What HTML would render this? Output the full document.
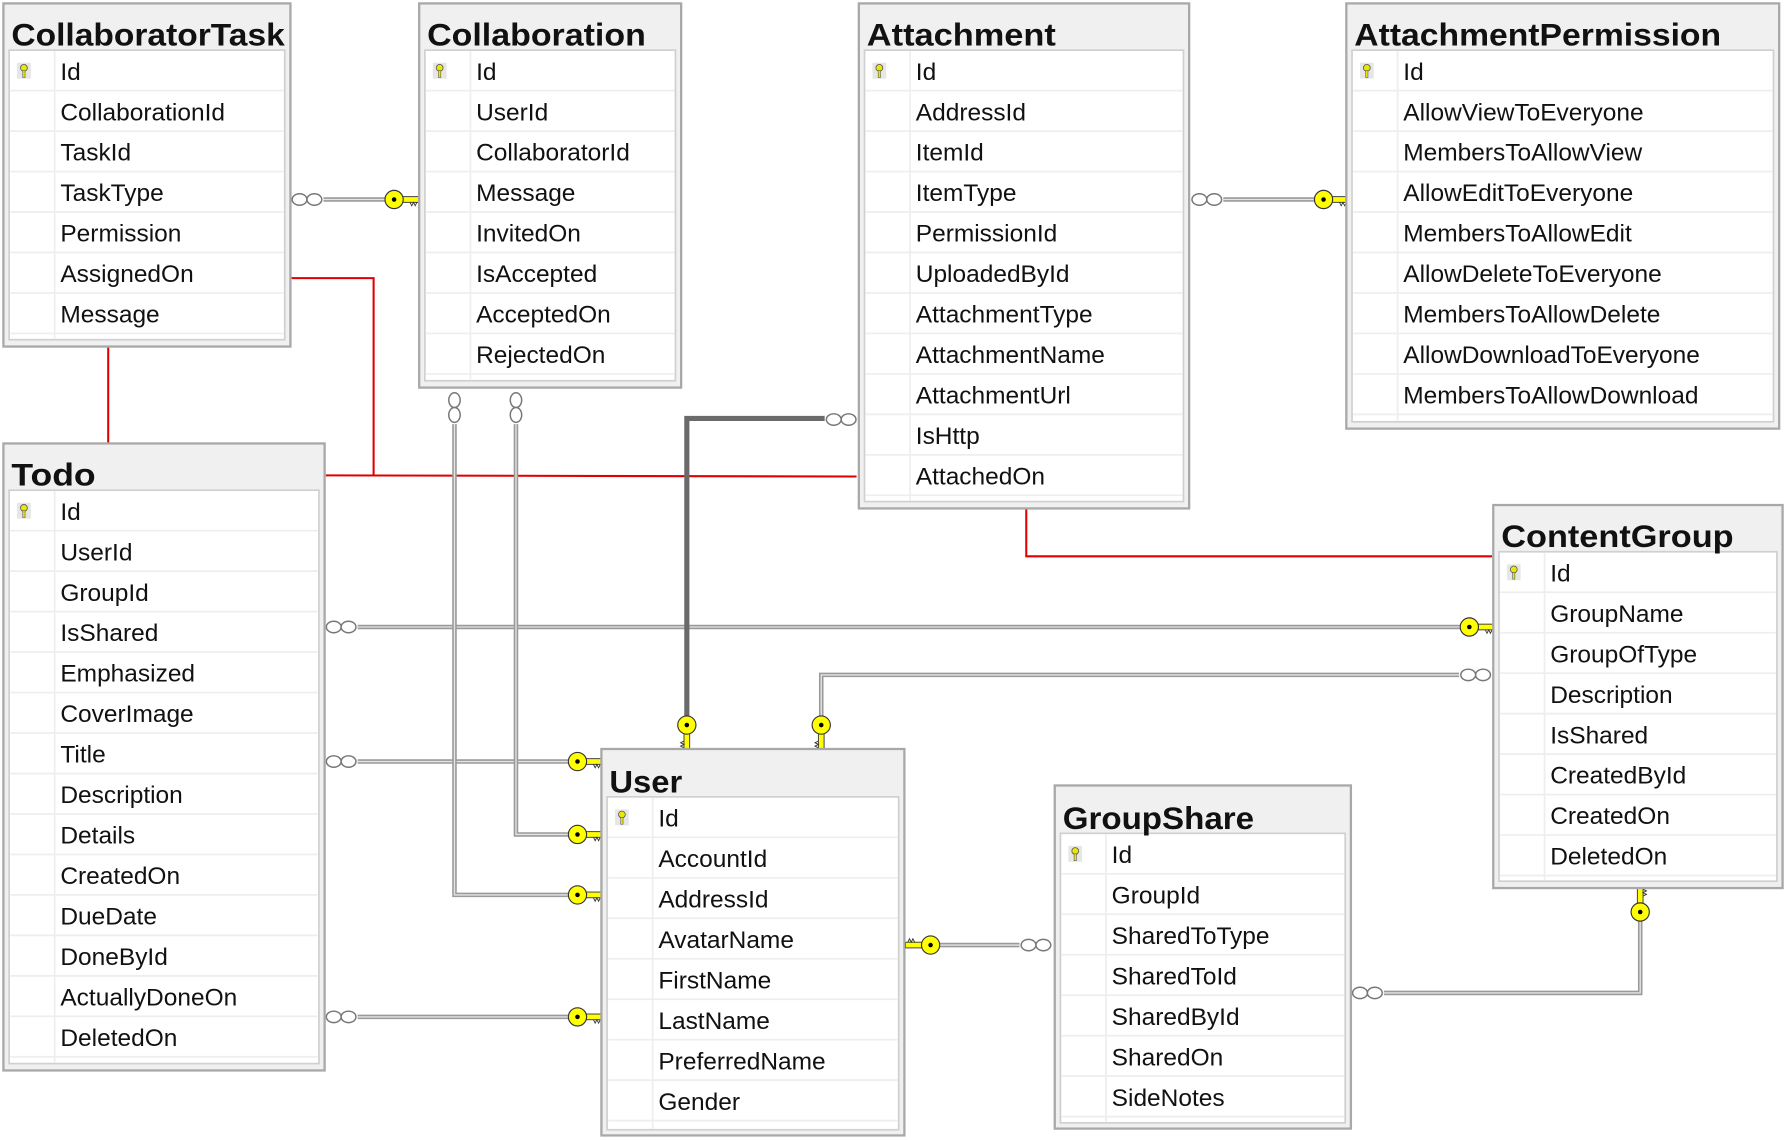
<!DOCTYPE html>
<html><head><meta charset="utf-8"><style>
html,body{margin:0;padding:0;background:#fff;}
svg{display:block;}
text{font-family:"Liberation Sans",sans-serif;fill:#111;}
.t{font-size:28px;font-weight:bold;}
.f{font-size:21.5px;}
.ob{fill:#f0f0f0;stroke:#a8a8a8;stroke-width:2;}
.ib{fill:#fff;stroke:#d0d0d0;stroke-width:1.5;}
.sep{stroke:#eeeeee;stroke-width:1.5;}
.ln1{fill:none;stroke:#9a9a9a;stroke-width:4;}
.ln2{fill:none;stroke:#e4e4e4;stroke-width:1.2;}
.dk{fill:none;stroke:#6a6a6a;stroke-width:4.5;}
.red{fill:none;stroke:#e00000;stroke-width:1.8;}
.inf{fill:#fff;stroke:#777;stroke-width:1.3;}
</style></head><body>
<svg width="1786" height="1140" viewBox="0 0 1568 1000" preserveAspectRatio="none" xmlns="http://www.w3.org/2000/svg">
<defs>
<g id="key">
<rect x="6" y="-2.5" width="16" height="5" fill="#ffff00" stroke="#333" stroke-width="0.8"/>
<path d="M14 2.5 l1.5 3 l1.5 -3 l1.5 3 l1.5 -3" fill="none" stroke="#333" stroke-width="0.8"/>
<circle cx="0" cy="0" r="8" fill="#ffff00" stroke="#333" stroke-width="1"/>
<circle cx="0" cy="0" r="2" fill="#000"/>
</g>
<g id="sk">
<rect x="-6" y="-7" width="12" height="14" fill="#e6e6e6"/>
<circle cx="0" cy="-2.5" r="3" fill="#e8e800" stroke="#555" stroke-width="0.7"/>
<rect x="-1" y="0" width="2" height="6" fill="#e8e800" stroke="#555" stroke-width="0.5"/>
</g>
</defs>

<!-- red lines -->
<path class="red" d="M95 304 V389"/>
<path class="red" d="M256 244 H328 V417"/>
<path class="red" d="M286 417 L752 418"/>
<path class="red" d="M901 446 V488 H1310"/>

<!-- connectors -->
<g>
<path class="ln1" d="M284 175 H340"/><path class="ln2" d="M284 175 H340"/>
<path class="ln1" d="M1074 175 H1156"/><path class="ln2" d="M1074 175 H1156"/>
<path class="ln1" d="M314 550 H1284"/><path class="ln2" d="M314 550 H1284"/>
<path class="ln1" d="M314 668 H500"/><path class="ln2" d="M314 668 H500"/>
<path class="ln1" d="M314 892 H500"/><path class="ln2" d="M314 892 H500"/>
<path class="ln1" d="M399 372 V785 H500"/><path class="ln2" d="M399 372 V785 H500"/>
<path class="ln1" d="M453 372 V732 H500"/><path class="ln2" d="M453 372 V732 H500"/>
<path class="dk" d="M724 367 H603 V630"/>
<path class="ln1" d="M1281 592 H721 V630"/><path class="ln2" d="M1281 592 H721 V630"/>
<path class="ln1" d="M824 829 H895"/><path class="ln2" d="M824 829 H895"/>
<path class="ln1" d="M1215 871 H1440 V808"/><path class="ln2" d="M1215 871 H1440 V808"/>
</g>
<!-- infinity -->
<ellipse class="inf" cx="263" cy="175" rx="6.5" ry="5"/><ellipse class="inf" cx="276" cy="175" rx="6.5" ry="5"/>
<ellipse class="inf" cx="1053" cy="175" rx="6.5" ry="5"/><ellipse class="inf" cx="1066" cy="175" rx="6.5" ry="5"/>
<ellipse class="inf" cx="293" cy="550" rx="6.5" ry="5"/><ellipse class="inf" cx="306" cy="550" rx="6.5" ry="5"/>
<ellipse class="inf" cx="293" cy="668" rx="6.5" ry="5"/><ellipse class="inf" cx="306" cy="668" rx="6.5" ry="5"/>
<ellipse class="inf" cx="293" cy="892" rx="6.5" ry="5"/><ellipse class="inf" cx="306" cy="892" rx="6.5" ry="5"/>
<ellipse class="inf" cx="399" cy="351" rx="5" ry="6.5"/><ellipse class="inf" cx="399" cy="364" rx="5" ry="6.5"/>
<ellipse class="inf" cx="453" cy="351" rx="5" ry="6.5"/><ellipse class="inf" cx="453" cy="364" rx="5" ry="6.5"/>
<ellipse class="inf" cx="732" cy="368" rx="6.5" ry="5"/><ellipse class="inf" cx="745" cy="368" rx="6.5" ry="5"/>
<ellipse class="inf" cx="1289" cy="592" rx="6.5" ry="5"/><ellipse class="inf" cx="1302" cy="592" rx="6.5" ry="5"/>
<ellipse class="inf" cx="903" cy="829" rx="6.5" ry="5"/><ellipse class="inf" cx="916" cy="829" rx="6.5" ry="5"/>
<ellipse class="inf" cx="1194" cy="871" rx="6.5" ry="5"/><ellipse class="inf" cx="1207" cy="871" rx="6.5" ry="5"/>
<!-- keys -->
<use href="#key" transform="translate(346,175)"/>
<use href="#key" transform="translate(1162,175)"/>
<use href="#key" transform="translate(1290,550)"/>
<use href="#key" transform="translate(507,668)"/>
<use href="#key" transform="translate(507,732)"/>
<use href="#key" transform="translate(507,785)"/>
<use href="#key" transform="translate(507,892)"/>
<use href="#key" transform="translate(603,636) rotate(90)"/>
<use href="#key" transform="translate(721,636) rotate(90)"/>
<use href="#key" transform="translate(817,829) rotate(180)"/>
<use href="#key" transform="translate(1440,800) rotate(-90)"/>

<!-- CollaboratorTask -->
<g transform="translate(3,3)">
<rect class="ob" x="0" y="0" width="252" height="301"/>
<rect class="ib" x="5" y="41" width="242" height="254"/>
<text class="t" x="7" y="37" textLength="240" lengthAdjust="spacingAndGlyphs">CollaboratorTask</text>
<path class="sep" d="M6 76.5H246M6 112H246M6 147.5H246M6 183H246M6 218.5H246M6 254H246M6 289.5H246M45 42V294"/>
<use href="#sk" transform="translate(18,59)"/>
<text class="f" x="50" y="67">Id</text><text class="f" x="50" y="102.5">CollaborationId</text><text class="f" x="50" y="138">TaskId</text><text class="f" x="50" y="173.5">TaskType</text><text class="f" x="50" y="209">Permission</text><text class="f" x="50" y="244.5">AssignedOn</text><text class="f" x="50" y="280">Message</text>
</g>

<!-- Collaboration -->
<g transform="translate(368,3)">
<rect class="ob" x="0" y="0" width="230" height="337"/>
<rect class="ib" x="5" y="41" width="220" height="290"/>
<text class="t" x="7" y="37" textLength="192" lengthAdjust="spacingAndGlyphs">Collaboration</text>
<path class="sep" d="M6 76.5H224M6 112H224M6 147.5H224M6 183H224M6 218.5H224M6 254H224M6 289.5H224M6 325H224M45 42V330"/>
<use href="#sk" transform="translate(18,59)"/>
<text class="f" x="50" y="67">Id</text><text class="f" x="50" y="102.5">UserId</text><text class="f" x="50" y="138">CollaboratorId</text><text class="f" x="50" y="173.5">Message</text><text class="f" x="50" y="209">InvitedOn</text><text class="f" x="50" y="244.5">IsAccepted</text><text class="f" x="50" y="280">AcceptedOn</text><text class="f" x="50" y="315.5">RejectedOn</text>
</g>

<!-- Attachment -->
<g transform="translate(754,3)">
<rect class="ob" x="0" y="0" width="290" height="443"/>
<rect class="ib" x="5" y="41" width="280" height="396"/>
<text class="t" x="7" y="37" textLength="166" lengthAdjust="spacingAndGlyphs">Attachment</text>
<path class="sep" d="M6 76.5H284M6 112H284M6 147.5H284M6 183H284M6 218.5H284M6 254H284M6 289.5H284M6 325H284M6 360.5H284M6 396H284M6 431.5H284M45 42V436"/>
<use href="#sk" transform="translate(18,59)"/>
<text class="f" x="50" y="67">Id</text><text class="f" x="50" y="102.5">AddressId</text><text class="f" x="50" y="138">ItemId</text><text class="f" x="50" y="173.5">ItemType</text><text class="f" x="50" y="209">PermissionId</text><text class="f" x="50" y="244.5">UploadedById</text><text class="f" x="50" y="280">AttachmentType</text><text class="f" x="50" y="315.5">AttachmentName</text><text class="f" x="50" y="351">AttachmentUrl</text><text class="f" x="50" y="386.5">IsHttp</text><text class="f" x="50" y="422">AttachedOn</text>
</g>

<!-- AttachmentPermission -->
<g transform="translate(1182,3)">
<rect class="ob" x="0" y="0" width="380" height="373"/>
<rect class="ib" x="5" y="41" width="370" height="326"/>
<text class="t" x="7" y="37" textLength="322" lengthAdjust="spacingAndGlyphs">AttachmentPermission</text>
<path class="sep" d="M6 76.5H374M6 112H374M6 147.5H374M6 183H374M6 218.5H374M6 254H374M6 289.5H374M6 325H374M6 360.5H374M45 42V366"/>
<use href="#sk" transform="translate(18,59)"/>
<text class="f" x="50" y="67">Id</text><text class="f" x="50" y="102.5">AllowViewToEveryone</text><text class="f" x="50" y="138">MembersToAllowView</text><text class="f" x="50" y="173.5">AllowEditToEveryone</text><text class="f" x="50" y="209">MembersToAllowEdit</text><text class="f" x="50" y="244.5">AllowDeleteToEveryone</text><text class="f" x="50" y="280">MembersToAllowDelete</text><text class="f" x="50" y="315.5">AllowDownloadToEveryone</text><text class="f" x="50" y="351">MembersToAllowDownload</text>
</g>

<!-- Todo -->
<g transform="translate(3,389)">
<rect class="ob" x="0" y="0" width="282" height="550"/>
<rect class="ib" x="5" y="41" width="272" height="503"/>
<text class="t" x="7" y="37" textLength="74" lengthAdjust="spacingAndGlyphs">Todo</text>
<path class="sep" d="M6 76.5H276M6 112H276M6 147.5H276M6 183H276M6 218.5H276M6 254H276M6 289.5H276M6 325H276M6 360.5H276M6 396H276M6 431.5H276M6 467H276M6 502.5H276M6 538H276M45 42V543"/>
<use href="#sk" transform="translate(18,59)"/>
<text class="f" x="50" y="67">Id</text><text class="f" x="50" y="102.5">UserId</text><text class="f" x="50" y="138">GroupId</text><text class="f" x="50" y="173.5">IsShared</text><text class="f" x="50" y="209">Emphasized</text><text class="f" x="50" y="244.5">CoverImage</text><text class="f" x="50" y="280">Title</text><text class="f" x="50" y="315.5">Description</text><text class="f" x="50" y="351">Details</text><text class="f" x="50" y="386.5">CreatedOn</text><text class="f" x="50" y="422">DueDate</text><text class="f" x="50" y="457.5">DoneById</text><text class="f" x="50" y="493">ActuallyDoneOn</text><text class="f" x="50" y="528.5">DeletedOn</text>
</g>

<!-- User -->
<g transform="translate(528,657)">
<rect class="ob" x="0" y="0" width="266" height="339"/>
<rect class="ib" x="5" y="42" width="256" height="292"/>
<text class="t" x="7" y="38" textLength="64" lengthAdjust="spacingAndGlyphs">User</text>
<path class="sep" d="M6 77.5H260M6 113H260M6 148.5H260M6 184H260M6 219.5H260M6 255H260M6 290.5H260M6 326H260M45 43V333"/>
<use href="#sk" transform="translate(18,60)"/>
<text class="f" x="50" y="68">Id</text><text class="f" x="50" y="103.5">AccountId</text><text class="f" x="50" y="139">AddressId</text><text class="f" x="50" y="174.5">AvatarName</text><text class="f" x="50" y="210">FirstName</text><text class="f" x="50" y="245.5">LastName</text><text class="f" x="50" y="281">PreferredName</text><text class="f" x="50" y="316.5">Gender</text>
</g>

<!-- GroupShare -->
<g transform="translate(926,689)">
<rect class="ob" x="0" y="0" width="260" height="301"/>
<rect class="ib" x="5" y="42" width="250" height="254"/>
<text class="t" x="7" y="38" textLength="168" lengthAdjust="spacingAndGlyphs">GroupShare</text>
<path class="sep" d="M6 77.5H254M6 113H254M6 148.5H254M6 184H254M6 219.5H254M6 255H254M6 290.5H254M45 43V295"/>
<use href="#sk" transform="translate(18,60)"/>
<text class="f" x="50" y="68">Id</text><text class="f" x="50" y="103.5">GroupId</text><text class="f" x="50" y="139">SharedToType</text><text class="f" x="50" y="174.5">SharedToId</text><text class="f" x="50" y="210">SharedById</text><text class="f" x="50" y="245.5">SharedOn</text><text class="f" x="50" y="281">SideNotes</text>
</g>

<!-- ContentGroup -->
<g transform="translate(1311,443)">
<rect class="ob" x="0" y="0" width="254" height="336"/>
<rect class="ib" x="5" y="41" width="244" height="289"/>
<text class="t" x="7" y="37" textLength="204" lengthAdjust="spacingAndGlyphs">ContentGroup</text>
<path class="sep" d="M6 76.5H248M6 112H248M6 147.5H248M6 183H248M6 218.5H248M6 254H248M6 289.5H248M6 325H248M45 42V329"/>
<use href="#sk" transform="translate(18,59)"/>
<text class="f" x="50" y="67">Id</text><text class="f" x="50" y="102.5">GroupName</text><text class="f" x="50" y="138">GroupOfType</text><text class="f" x="50" y="173.5">Description</text><text class="f" x="50" y="209">IsShared</text><text class="f" x="50" y="244.5">CreatedById</text><text class="f" x="50" y="280">CreatedOn</text><text class="f" x="50" y="315.5">DeletedOn</text>
</g>
</svg>
</body></html>
